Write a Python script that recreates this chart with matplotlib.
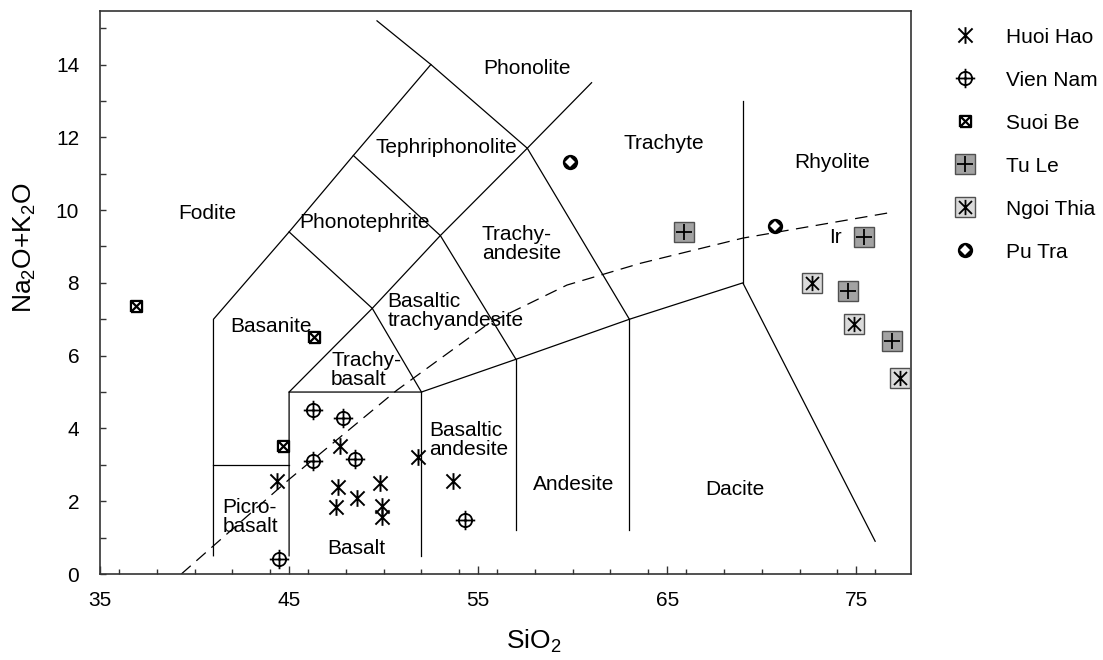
import matplotlib
matplotlib.use("Agg")
import matplotlib.pyplot as plt
from matplotlib.path import Path
from matplotlib.lines import Line2D
from matplotlib.ticker import MultipleLocator, FixedLocator

plt.rcParams['font.family'] = ['Liberation Sans', 'DejaVu Sans']
plt.rcParams['mathtext.fontset'] = 'custom'
plt.rcParams['mathtext.rm'] = 'Liberation Sans'

# samples (SiO2, Na2O+K2O)
huoi_hao_sio2 = [44.35, 47.7, 47.6, 47.47, 48.6, 49.81, 49.94, 49.94, 51.84, 53.66]
huoi_hao_alk = [2.56, 3.52, 2.38, 1.83, 2.1, 2.49, 1.87, 1.56, 3.22, 2.56]
vien_nam_sio2 = [46.29, 47.84, 46.29, 48.49, 44.47, 54.31]
vien_nam_alk = [4.52, 4.30, 3.10, 3.16, 0.41, 1.48]
suoi_be_sio2 = [36.9, 44.66, 46.3]
suoi_be_alk = [7.36, 3.53, 6.5]
tu_le_sio2 = [65.9, 75.4, 74.54, 76.9]
tu_le_alk = [9.4, 9.27, 7.78, 6.4]
ngoi_thia_sio2 = [72.65, 74.9, 77.3]
ngoi_thia_alk = [7.99, 6.87, 5.38]
pu_tra_sio2 = [59.86, 70.7]
pu_tra_alk = [11.31, 9.56]

# TAS field boundaries
boundaries = [
    [(41, 0.5), (41, 7), (45, 9.4), (48.4, 11.5), (52.5, 14)],
    [(49.65, 15.2), (52.5, 14), (57.6, 11.7), (63, 7)],
    [(45, 9.4), (49.4, 7.3), (52, 5)],
    [(48.4, 11.5), (53, 9.3), (57, 5.9)],
    [(45, 5), (49.4, 7.3), (53, 9.3), (57.6, 11.7), (61, 13.5)],
    [(41, 3), (45, 3)],
    [(45, 0.5), (45, 5), (52, 5), (57, 5.9), (63, 7), (69, 8), (76, 0.9)],
    [(52, 0.5), (52, 5)],
    [(57, 1.2), (57, 5.9)],
    [(63, 1.2), (63, 7)],
    [(69, 8), (69, 13)],
]
# Irvine & Baragar alkaline / subalkaline divide
ir_sio2 = [39.3, 45, 50.7, 55.6, 59.7, 63.6, 69, 77]
ir_alk = [0, 2.6, 5.05, 6.9, 7.94, 8.54, 9.23, 9.95]

field_names = ["Phonolite", "Tephriphonolite", "Fodite", "Phonotephrite", "Trachyte", "Rhyolite",
               "Basanite", "Andesite", "Dacite", "Basalt", "Ir"]
field_x = [57.6, 53.3, 40.7, 49.0, 64.8, 73.7, 44.05, 60.05, 68.6, 48.55, 73.9]
field_y = [13.9, 11.73, 9.9, 9.66, 11.83, 11.31, 6.81, 2.45, 2.31, 0.71, 9.25]
multi_names = ["Trachy-\nandesite", "Basaltic\ntrachyandesite", "Trachy-\nbasalt",
               "Basaltic\nandesite", "Picro-\nbasalt"]
multi_x = [55.2, 50.19, 47.22, 52.43, 41.49]
multi_y = [9.07, 7.23, 5.61, 3.69, 1.56]

# marker shapes
ast = Path([(0, -1), (0, 1), (-0.85, -0.85), (0.85, 0.85), (-0.85, 0.85), (0.85, -0.85)],
           [1, 2, 1, 2, 1, 2])
circ_plus = Path.make_compound_path(
    Path.circle((0, 0), 0.68),
    Path([(-1, 0), (1, 0), (0, -1), (0, 1)], [1, 2, 1, 2]))
box_x = Path([(-1, -1), (1, -1), (1, 1), (-1, 1), (-1, -1), (-1, -1), (1, 1), (-1, 1), (1, -1)],
             [1, 2, 2, 2, 2, 1, 2, 1, 2])

styles = {
    "Huoi Hao": [dict(marker=ast, ms=12, mec='black', mew=1.4, mfc='none')],
    "Vien Nam": [dict(marker=circ_plus, ms=14, mec='black', mew=1.3, mfc='none')],
    "Suoi Be": [dict(marker=box_x, ms=8, mec='black', mew=1.6, mfc='white')],
    "Tu Le": [dict(marker='s', ms=15, mec='#505050', mew=1.0, mfc='#a3a3a3'),
              dict(marker='+', ms=11, mec='black', mew=1.3)],
    "Ngoi Thia": [dict(marker='s', ms=15, mec='#505050', mew=1.0, mfc='#dadada'),
                  dict(marker=ast, ms=11, mec='black', mew=1.3, mfc='none')],
    "Pu Tra": [dict(marker='o', ms=11, mec='black', mfc='black', mew=0),
               dict(marker='D', ms=5.5, mec='white', mfc='white', mew=0)],
}
groups = [
    ("Huoi Hao", huoi_hao_sio2, huoi_hao_alk),
    ("Vien Nam", vien_nam_sio2, vien_nam_alk),
    ("Suoi Be", suoi_be_sio2, suoi_be_alk),
    ("Tu Le", tu_le_sio2, tu_le_alk),
    ("Ngoi Thia", ngoi_thia_sio2, ngoi_thia_alk),
    ("Pu Tra", pu_tra_sio2, pu_tra_alk),
]

fig = plt.figure(figsize=(11.03, 6.6), dpi=100)
ax = fig.add_axes([0.0907, 0.1303, 0.7353, 0.853])

for seg in boundaries:
    xs, ys = zip(*seg)
    ax.plot(xs, ys, color='black', lw=0.9, zorder=2)
ax.plot(ir_sio2, ir_alk, color='black', lw=0.9, ls=(0, (10, 6)), zorder=2)

for name, x, y, in zip(field_names, field_x, field_y):
    ax.text(x, y, name, fontsize=15, ha='center', va='center', zorder=3)
for name, x, y in zip(multi_names, multi_x, multi_y):
    ax.text(x, y, name, fontsize=15, ha='left', va='center', linespacing=1.0, zorder=3)

handles = []
for name, x, y in groups:
    hs = []
    for st in styles[name]:
        ax.plot(x, y, ls='none', clip_on=False, zorder=5, **st)
        hs.append(Line2D([], [], ls='none', **st))
    handles.append(tuple(hs))

ax.set_xlim(35, 77.9)
ax.set_ylim(0, 15.47)
ax.xaxis.set_major_locator(FixedLocator([35, 45, 55, 65, 75]))
ax.xaxis.set_minor_locator(MultipleLocator(2))
ax.yaxis.set_major_locator(MultipleLocator(2))
ax.yaxis.set_minor_locator(MultipleLocator(1))
ax.tick_params(which='both', direction='in', colors='#333333', labelcolor='black', labelsize=15, width=1.0)
ax.tick_params(axis='x', which='major', length=6, pad=12)
ax.tick_params(axis='x', which='minor', length=3.5)
ax.tick_params(axis='y', which='major', length=4.5, pad=15)
ax.tick_params(axis='y', which='minor', length=4)
ax.set_yticks([0, 2, 4, 6, 8, 10, 12, 14])
for sp in ax.spines.values():
    sp.set_color('#333333')
    sp.set_linewidth(1.2)

ax.set_xlabel(r'$\mathregular{SiO_2}$', fontsize=19)
ax.xaxis.set_label_coords(0.535, -0.095)
ax.set_ylabel(r'$\mathregular{Na_2O{+}K_2O}$', fontsize=19)
ax.yaxis.set_label_coords(-0.077, 0.58)

fig.legend(handles, [g[0] for g in groups], loc='upper left',
           bbox_to_anchor=(949.5 / 1103, 0.958), frameon=False, fontsize=15,
           handlelength=1.5, handletextpad=1.2, labelspacing=1.15,
           borderpad=0, borderaxespad=0)

fig.savefig('out.png', dpi=100)
